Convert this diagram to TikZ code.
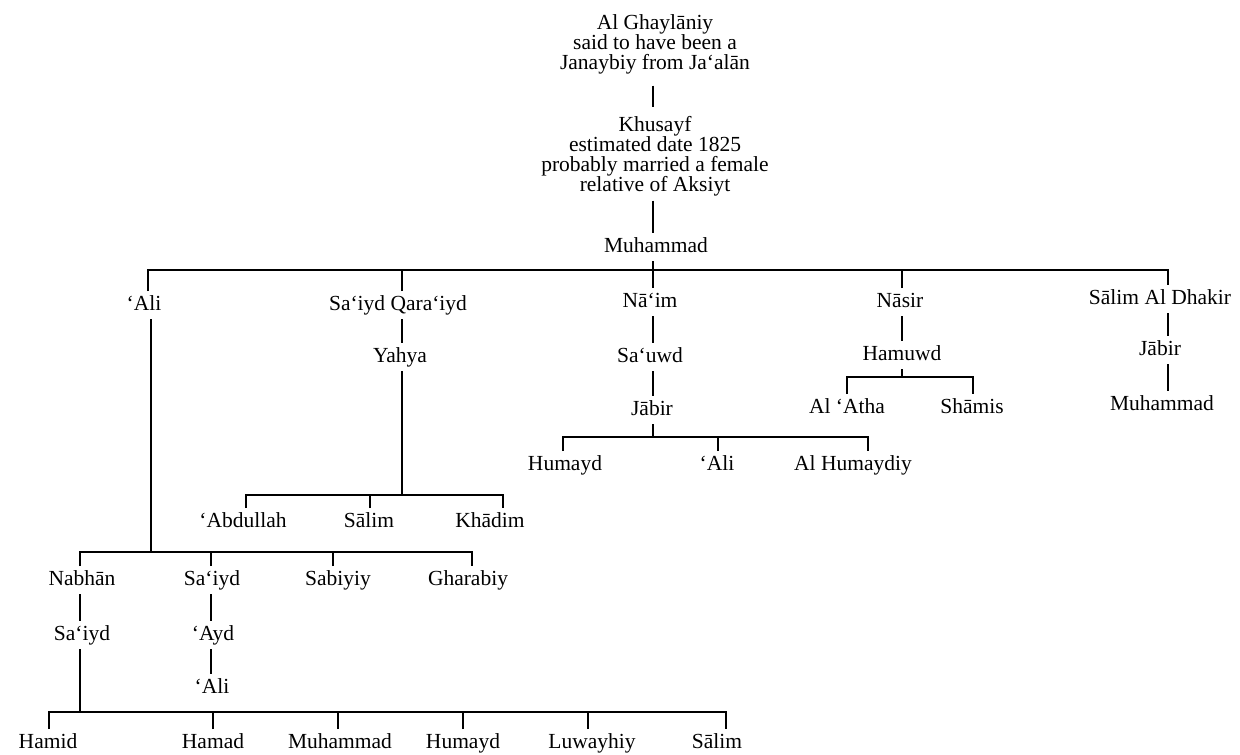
\documentclass[tikz,border=0pt]{standalone}
\usepackage{fontspec}
\setmainfont{Liberation Serif}
\begin{document}
\begin{tikzpicture}[x=1pt,y=-1pt,
  every node/.style={font=\fontsize{21.5}{20}\selectfont, anchor=base, inner xsep=1pt},
  nm/.style={text height=14pt, text depth=4pt, inner ysep=3pt, outer ysep=2pt},
  multi/.style={align=center, inner ysep=3pt, outer ysep=2pt},
  link/.style={draw=black, line width=1.2pt}]
\useasboundingbox (0,0) rectangle (1240,755);

% ---- nodes (multi-line nodes are placed by the baseline of their last line) ----
\node[multi] (g) at (655,69) {Al Ghayl\=aniy\\said to have been a\\Janaybiy from Ja‘al\=an};
\node[multi] (k) at (655,191) {Khusayf\\estimated date 1825\\probably married a female\\relative of Aksiyt};
\node[nm] (m) at (656,252) {Muhammad};

\node[nm] (a1)  at (144,310) {‘Ali};
\node[nm] (sq)  at (398,310) {Sa‘iyd Qara‘iyd};
\node[nm] (n1)  at (650,307) {N\=a‘im};
\node[nm] (ns)  at (900,307) {N\=asir};
\node[nm] (sad) at (1160,304) {S\=alim Al Dhakir};

\node[nm] (y1) at (400,362) {Yahya};
\node[nm] (sw) at (650,362) {Sa‘uwd};
\node[nm] (hw) at (902,360) {Hamuwd};
\node[nm] (j2) at (1160,355) {J\=abir};

\node[nm] (j1) at (652,415) {J\=abir};
\node[nm] (at) at (847,413) {Al ‘Atha};
\node[nm] (sh) at (972,413) {Sh\=amis};
\node[nm] (m2) at (1162,410) {Muhammad};

\node[nm] (hu)  at (565,470) {Humayd};
\node[nm] (al2) at (717,470) {‘Ali};
\node[nm] (ah)  at (853,470) {Al Humaydiy};

\node[nm] (ab) at (243,527) {‘Abdullah};
\node[nm] (sl) at (369,527) {S\=alim};
\node[nm] (kh) at (490,527) {Kh\=adim};

\node[nm] (nb) at (82,585)  {Nabh\=an};
\node[nm] (s2) at (212,585) {Sa‘iyd};
\node[nm] (sb) at (338,585) {Sabiyiy};
\node[nm] (gh) at (468,585) {Gharabiy};

\node[nm] (s3) at (82,640)  {Sa‘iyd};
\node[nm] (ay) at (213,640) {‘Ayd};
\node[nm] (al3) at (212,693) {‘Ali};

\node[nm] (hm) at (48,748)  {Hamid};
\node[nm] (hd) at (213,748) {Hamad};
\node[nm] (mu) at (340,748) {Muhammad};
\node[nm] (hy) at (463,748) {Humayd};
\node[nm] (lw) at (592,748) {Luwayhiy};
\node[nm] (sm) at (717,748) {S\=alim};

% ---- bar levels ----
\coordinate (bm) at (0,270);
\coordinate (by) at (0,495);
\coordinate (bj) at (0,437);
\coordinate (bh) at (0,377);
\coordinate (ba) at (0,552);
\coordinate (bs) at (0,712);

% ---- connectors ----
\draw[link] ([xshift=-2pt,yshift=-7pt]g.south) -- ([xshift=-2pt,yshift=4pt]k.north);
\draw[link] ([xshift=-2pt]k.south) -- ([xshift=-3pt]m.north);
\draw[link] ([xshift=-3pt]m.south) -- ([xshift=3pt]n1.north);

\draw[link] ([xshift=4pt]a1.north) |- ([xshift=8pt]sad.north |- bm) -- ([xshift=8pt]sad.north);
\draw[link] ([xshift=4pt]sq.north) -- ([xshift=4pt]sq.north |- bm);
\draw[link] ([xshift=2pt]ns.north) -- ([xshift=2pt]ns.north |- bm);

\draw[link] ([xshift=4pt]sq.south) -- ([xshift=2pt]y1.north);
\draw[link] ([xshift=2pt]y1.south) -- ([xshift=2pt]y1.south |- by);
\draw[link] ([xshift=3pt]ab.north) |- ([xshift=13pt]kh.north |- by) -- ([xshift=13pt]kh.north);
\draw[link] ([xshift=1pt]sl.north) -- ([xshift=1pt]sl.north |- by);

\draw[link] ([xshift=3pt]n1.south) -- ([xshift=3pt]sw.north);
\draw[link] ([xshift=3pt]sw.south) -- ([xshift=1pt]j1.north);
\draw[link] ([xshift=1pt]j1.south) -- ([xshift=1pt]j1.south |- bj);
\draw[link] ([xshift=-2pt]hu.north) |- ([xshift=15pt]ah.north |- bj) -- ([xshift=15pt]ah.north);
\draw[link] ([xshift=1pt]al2.north) -- ([xshift=1pt]al2.north |- bj);

\draw[link] ([xshift=2pt]ns.south) -- (hw.north);
\draw[link] (hw.south) -- (hw.south |- bh);
\draw[link] (at.north) |- ([xshift=1pt]sh.north |- bh) -- ([xshift=1pt]sh.north);

\draw[link] ([xshift=8pt]sad.south) -- ([xshift=8pt]j2.north);
\draw[link] ([xshift=8pt]j2.south) -- ([xshift=6pt]m2.north);

\draw[link] ([xshift=7pt]a1.south) -- ([xshift=7pt]a1.south |- ba);
\draw[link] ([xshift=-2pt]nb.north) |- ([xshift=4pt]gh.north |- ba) -- ([xshift=4pt]gh.north);
\draw[link] ([xshift=-1pt]s2.north) -- ([xshift=-1pt]s2.north |- ba);
\draw[link] ([xshift=-5pt]sb.north) -- ([xshift=-5pt]sb.north |- ba);

\draw[link] ([xshift=-2pt]nb.south) -- ([xshift=-2pt]s3.north);
\draw[link] ([xshift=-1pt]s2.south) -- ([xshift=-2pt]ay.north);
\draw[link] ([xshift=-2pt]ay.south) -- ([xshift=-1pt]al3.north);

\draw[link] ([xshift=-2pt]s3.south) -- ([xshift=-2pt]s3.south |- bs);
\draw[link] ([xshift=1pt]hm.north) |- ([xshift=9pt]sm.north |- bs) -- ([xshift=9pt]sm.north);
\draw[link] (hd.north) -- (hd.north |- bs);
\draw[link] ([xshift=-2pt]mu.north) -- ([xshift=-2pt]mu.north |- bs);
\draw[link] (hy.north) -- (hy.north |- bs);
\draw[link] ([xshift=-4pt]lw.north) -- ([xshift=-4pt]lw.north |- bs);
\end{tikzpicture}
\end{document}
